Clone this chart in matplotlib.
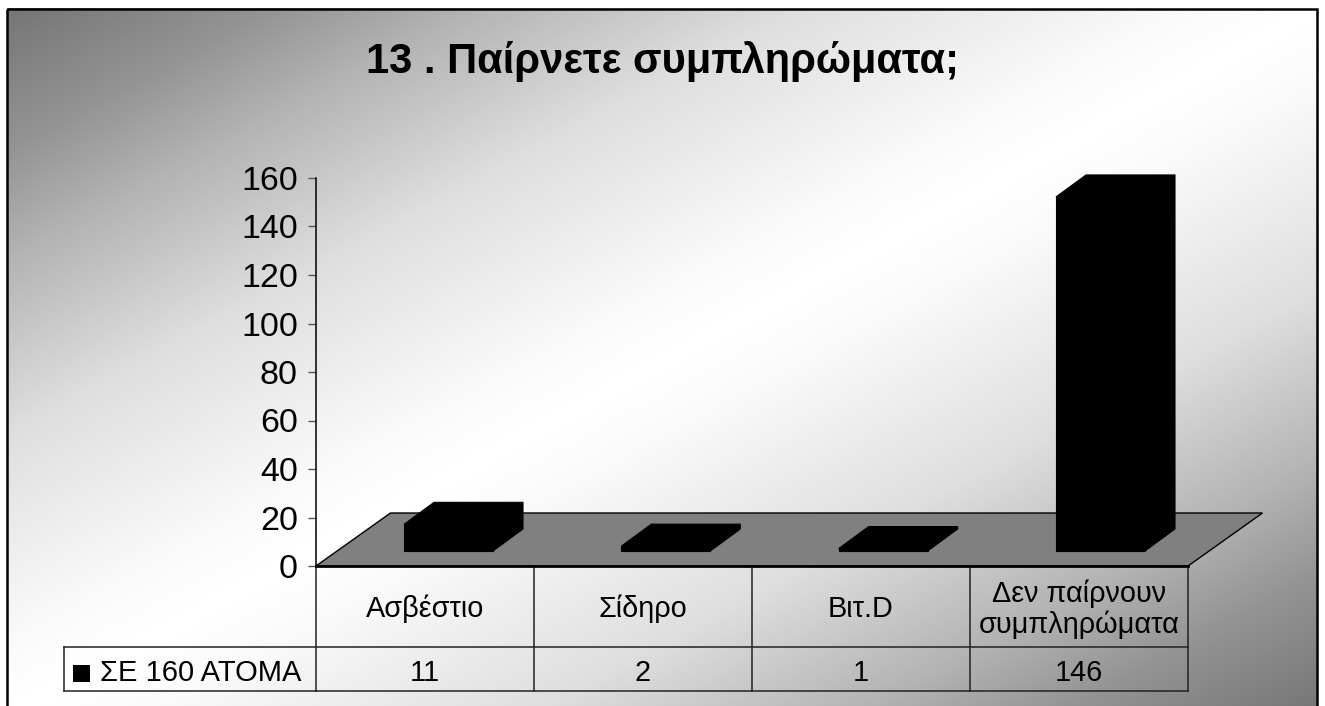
import numpy as np
import matplotlib
matplotlib.use("Agg")
import matplotlib.pyplot as plt
from matplotlib.patches import Polygon, Rectangle

plt.rcParams["font.family"] = ["Liberation Sans", "DejaVu Sans"]

categories = ["Ασβέστιο", "Σίδηρο", "Βιτ.D", "Δεν παίρνουν\nσυμπληρώματα"]
values = [11, 2, 1, 146]
series_name = "ΣΕ 160 ΑΤΟΜΑ"
title = "13 . Παίρνετε συμπληρώματα;"
yticks = [0, 20, 40, 60, 80, 100, 120, 140, 160]

W, H = 1325, 706
fig = plt.figure(figsize=(W / 100, H / 100), dpi=100)

# background: white band across the diagonal, grey in two corners
bg = fig.add_axes([0, 0, 1, 1])
bg.axis("off")
left, top, right = 6.5, 8.5, 1317
xx, yy = np.meshgrid(np.linspace(0, 1, 400), np.linspace(0, 1, 300))
t = np.abs(xx + yy - 1)
shade = np.interp(t, [0, 0.1, 0.4, 0.65, 0.8, 1], [1, 0.98, 0.87, 0.70, 0.58, 0.46])
bg.imshow(shade, cmap="gray", vmin=0, vmax=1, aspect="auto",
          extent=[left, right, H + 10, top], interpolation="bilinear")
bg.set_xlim(0, W)
bg.set_ylim(H, 0)
bg.add_patch(Rectangle((left, top), right - left, H + 10, fill=False, ec="black", lw=1.8))

bg.text(663, 62, title, ha="center", va="center", fontsize=30, fontweight="bold")

# plot area, x in categories and y in value units
x0, x1, y0, y1 = 316, 1188, 566, 178
ax = fig.add_axes([x0 / W, 1 - y0 / H, (x1 - x0) / W, (y0 - y1) / H])
ax.patch.set_alpha(0)
ax.set_xlim(0, 4)
ax.set_ylim(0, 160)
for s in ["top", "right", "bottom"]:
    ax.spines[s].set_visible(False)
ax.spines["left"].set_linewidth(1.1)
ax.set_xticks([])
ax.set_yticks(yticks)
ax.tick_params(axis="y", labelsize=24.5, length=6, width=1, color="#555555", pad=7)

px_x = 4 / (x1 - x0)
px_y = 160 / (y0 - y1)

# floor
dx, dy = 74.5 * px_x, 53 * px_y
ax.add_patch(Polygon([(0, 0), (4, 0), (4 + dx, dy), (dx, dy)], closed=True, fc="#808080",
                     ec="black", lw=1, clip_on=False, zorder=1))
ax.plot([0, 4], [0, 0], color="black", lw=2, clip_on=False, zorder=2)

# bars with their top and side faces
bar_w = 89 * px_x
bar_step = 217.33 * px_x
bx, by = 30 * px_x, 22 * px_y
lift = 15 * px_y
for i, v in enumerate(values):
    l = (404 - x0) * px_x + i * bar_step
    r = l + bar_w
    ax.bar(l, v, width=bar_w, bottom=lift, align="edge", color="black", ec="black", lw=0.8,
           clip_on=False, zorder=3)
    top_face = [(l, v + lift), (r, v + lift), (r + bx, v + lift + by), (l + bx, v + lift + by)]
    side_face = [(r, lift), (r + bx, lift + by), (r + bx, v + lift + by), (r, v + lift)]
    ax.add_patch(Polygon(top_face, closed=True, fc="black", ec="black", lw=0.8, clip_on=False, zorder=3))
    ax.add_patch(Polygon(side_face, closed=True, fc="black", ec="black", lw=0.8, clip_on=False, zorder=3))

# data table under the plot
line = dict(color="#222222", lw=1.1)
t_mid, t_bot, leg_left = 647, 691, 64
for vx in np.linspace(x0, x1, 5):
    bg.plot([vx, vx], [y0, t_bot], **line)
bg.plot([x0, x1], [t_bot, t_bot], **line)
bg.plot([leg_left, x1], [t_mid, t_mid], **line)
bg.plot([leg_left, x0], [t_bot, t_bot], **line)
bg.plot([leg_left, leg_left], [t_mid, t_bot], **line)

cell_w = (x1 - x0) / 4
for i, (c, v) in enumerate(zip(categories, values)):
    cx = x0 + (i + 0.5) * cell_w
    bg.text(cx, (y0 + t_mid) / 2 + 2.5, c, ha="center", va="center", fontsize=20.8, linespacing=1.1)
    bg.text(cx, (t_mid + t_bot) / 2 + 4, str(v), ha="center", va="center", fontsize=20.8)
bg.add_patch(Rectangle((73, 665), 17, 17, fc="black", ec="none"))
bg.text(100, (t_mid + t_bot) / 2 + 4, series_name, ha="left", va="center", fontsize=21)

fig.savefig("out.png", dpi=100)
